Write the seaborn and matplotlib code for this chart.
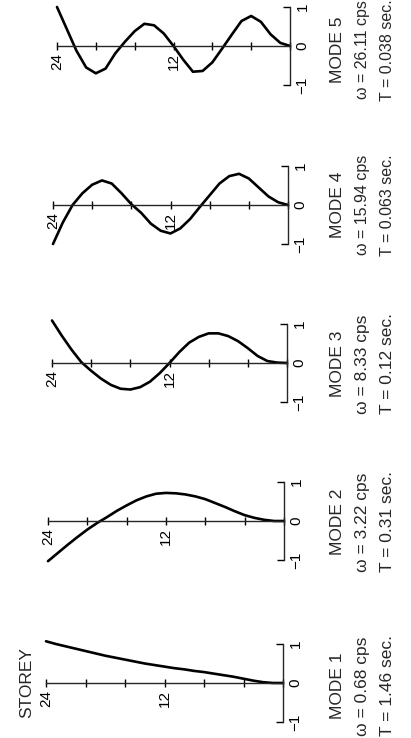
import matplotlib
matplotlib.use("Agg")
import matplotlib.pyplot as plt
import seaborn as sns

# ---------------- data ----------------
storeys = list(range(25))
mode1 = [0.00, 0.00, 0.02, 0.06, 0.11, 0.16, 0.20, 0.24, 0.28, 0.31, 0.35, 0.38, 0.42,
         0.46, 0.50, 0.55, 0.60, 0.65, 0.70, 0.76, 0.82, 0.88, 0.94, 1.00, 1.07]
mode2 = [0.00, 0.00, 0.03, 0.08, 0.15, 0.25, 0.36, 0.46, 0.56, 0.63, 0.68, 0.71, 0.72,
         0.70, 0.63, 0.53, 0.40, 0.26, 0.10, -0.05, -0.22, -0.41, -0.61, -0.82, -1.03]
mode3 = [0.00, 0.01, 0.05, 0.18, 0.38, 0.56, 0.69, 0.76, 0.76, 0.67, 0.52, 0.28, 0.00,
         -0.26, -0.48, -0.62, -0.68, -0.66, -0.56, -0.40, -0.20, 0.02, 0.34, 0.70, 1.09]
mode4 = [0.00, 0.07, 0.22, 0.45, 0.68, 0.80, 0.74, 0.55, 0.25, -0.05, -0.36, -0.60, -0.73,
         -0.66, -0.48, -0.20, 0.02, 0.30, 0.55, 0.63, 0.52, 0.30, 0.00, -0.45, -1.00]
mode5 = [0.00, 0.08, 0.30, 0.62, 0.77, 0.64, 0.29, -0.07, -0.42, -0.64, -0.66, -0.35, 0.00,
         0.32, 0.53, 0.57, 0.38, 0.11, -0.19, -0.58, -0.70, -0.55, -0.12, 0.44, 1.00]
modes = [mode1, mode2, mode3, mode4, mode5]
mode_names = ["MODE 1", "MODE 2", "MODE 3", "MODE 4", "MODE 5"]
omega_labels = ["\u03c9 = 0.68 cps", "\u03c9 = 3.22 cps", "\u03c9 = 8.33 cps",
                "\u03c9 = 15.94 cps", "\u03c9 = 26.11 cps"]
period_labels = ["T = 1.46 sec.", "T = 0.31 sec.", "T = 0.12 sec.",
                 "T = 0.063 sec.", "T = 0.038 sec."]
storey_ticks = [0, 4, 8, 12, 16, 20, 24]
storey_ticklabels = ["", "", "", "12", "", "", "24"]
disp_ticks = [-1, 0, 1]
disp_ticklabels = ["\u22121", "0", "1"]

# ---------------- style ----------------
sns.set_style("ticks")
plt.rcParams["font.family"] = ["Liberation Sans", "DejaVu Sans"]

W, H = 411, 738
fig = plt.figure(figsize=(W / 100, H / 100), dpi=100)
fig.patch.set_facecolor("white")

# panel placement in pixels: (x of storey 24, x of storey 0, y of zero line)
panels = [(46, 283, 683), (48, 284, 521), (52, 287, 363), (53, 288, 205), (57, 290, 46)]
text_centres = [686, 522, 364, 205, 50]
text_sizes = [12.5, 12.5, 12.5, 11.5, 11.5]
unit = 39.0      # pixels per unit displacement
half = 1.25      # ylim half range

for i, (x24, x0, y0) in enumerate(panels):
    left = x24 / W
    width = (x0 - x24) / W
    bottom = 1 - (y0 + half * unit) / H
    height = 2 * half * unit / H
    ax = fig.add_axes([left, bottom, width, height])
    ax.set_facecolor("none")
    sns.lineplot(x=storeys, y=modes[i], ax=ax, color="black", linewidth=1.9,
                 clip_on=False)
    ax.set_xlim(24, 0)
    ax.set_ylim(-half, half)
    ax.set_xlabel("")
    ax.set_ylabel("")

    for s in ["top", "left"]:
        ax.spines[s].set_visible(False)
    ax.spines["bottom"].set_position(("data", 0))
    ax.spines["bottom"].set_bounds(0, 24)
    ax.spines["bottom"].set_linewidth(1.0)
    ax.spines["right"].set_position(("data", 0))
    ax.spines["right"].set_bounds(-1, 1)
    ax.spines["right"].set_linewidth(1.0)

    ax.set_xticks(storey_ticks)
    ax.set_xticklabels(storey_ticklabels)
    ax.tick_params(axis="x", direction="inout", length=6, width=1.0, pad=2,
                   labelsize=11, colors="black")
    for lab in ax.get_xticklabels():
        lab.set_rotation(90)
        lab.set_va("top")
        lab.set_ha("center")

    ax.yaxis.tick_right()
    ax.set_yticks(disp_ticks)
    ax.set_yticklabels(disp_ticklabels)
    ax.tick_params(axis="y", direction="in", length=5, width=1.0, pad=4,
                   labelsize=11, colors="black", left=False, right=True)
    ax.yaxis.get_major_ticks()[1].tick2line.set_visible(False)
    for lab in ax.get_yticklabels():
        lab.set_rotation(90)
        lab.set_va("center")
        lab.set_ha("left")

    yc = 1 - text_centres[i] / H
    fig.text(337 / W, yc, mode_names[i], rotation=90, ha="center", va="center",
             fontsize=12.5)
    fig.text(362 / W, yc, omega_labels[i], rotation=90, ha="center", va="center",
             fontsize=text_sizes[i])
    fig.text(387 / W, yc, period_labels[i], rotation=90, ha="center", va="center",
             fontsize=text_sizes[i])

fig.text(27 / W, 1 - 683 / H, "STOREY", rotation=90, ha="center", va="center",
         fontsize=12.5)

fig.savefig("out.png", dpi=100, facecolor="white")
